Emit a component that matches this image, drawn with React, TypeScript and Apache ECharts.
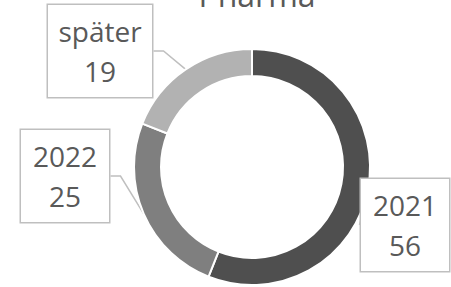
import React, { useEffect, useRef } from "react";
import * as echarts from "echarts";

const titleText = "Pharma";
const categories = ["2021", "2022", "später"];
const values = [56, 25, 19];
const colors = ["#4f4f4f", "#7f7f7f", "#b2b2b2"];

// label box layout (style, not data)
const labelCenters: [number, number][] = [
  [405, 225],
  [65, 176],
  [100, 51],
];
const labelWidths = [70, 70, 86];

export default function App() {
  const ref = useRef<HTMLDivElement>(null);
  useEffect(() => {
    if (!ref.current) return;
    const chart = echarts.init(ref.current, null, { renderer: "svg" });
    chart.setOption({
      animation: false,
      backgroundColor: "#ffffff",
      title: {
        text: titleText,
        left: 252,
        textAlign: "center",
        top: -27,
        textStyle: {
          fontFamily: "Open Sans",
          fontSize: 32,
          fontWeight: "normal",
          color: "#595959",
        },
      },
      series: [
        {
          type: "pie",
          center: [252, 167],
          radius: [91, 118],
          startAngle: 90,
          clockwise: true,
          data: categories.map((c, i) => ({
            name: c,
            value: values[i],
            itemStyle: { color: colors[i] },
            label: { width: labelWidths[i] },
          })),
          itemStyle: { borderColor: "#ffffff", borderWidth: 2 },
          label: {
            show: true,
            position: "outside",
            formatter: "{b}\n{c}",
            overflow: "none",
            fontFamily: "Open Sans",
            fontSize: 28,
            lineHeight: 40,
            color: "#595959",
            align: "center",
            backgroundColor: "#ffffff",
            borderColor: "#bfbfbf",
            borderWidth: 1.5,
            padding: [6, 9, 6, 9],
          },
          labelLine: {
            show: true,
            length: 10,
            length2: 10,
            lineStyle: { color: "#bfbfbf", width: 1.5 },
          },
          labelLayout: (params: any) => {
            const c = labelCenters[params.dataIndex];
            return { x: c[0], y: c[1], align: "center", verticalAlign: "middle" };
          },
          emphasis: { disabled: true },
        },
      ],
    });
    return () => chart.dispose();
  }, []);
  return (
    <div
      ref={ref}
      style={{ position: "fixed", left: 0, top: 0, width: 451, height: 287 }}
    />
  );
}
